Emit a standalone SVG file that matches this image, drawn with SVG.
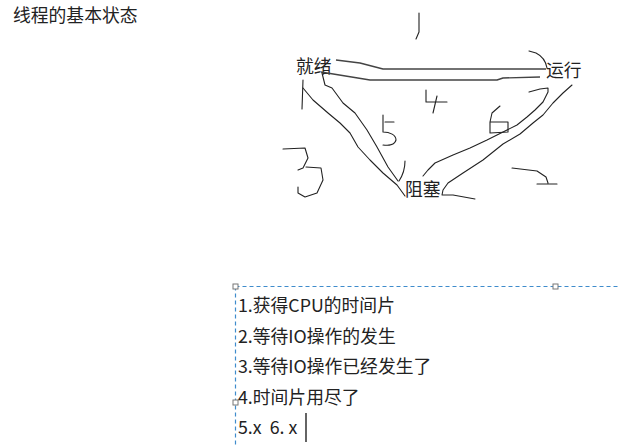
<svg xmlns="http://www.w3.org/2000/svg" width="620" height="447" viewBox="0 0 620 447">
<style>
text{font-family:"Noto Sans CJK SC","Microsoft YaHei",sans-serif;fill:#222;font-size:17.8px}
.hw{fill:none;stroke:#222;stroke-width:1.1;stroke-linejoin:round;stroke-linecap:round}
.hl{fill:none;stroke:#444;stroke-width:1.4;stroke-linejoin:round}
.dash{stroke:#3f8ccc;stroke-width:1.2;stroke-dasharray:4 3;fill:none}
.handle{fill:#fff;stroke:#777;stroke-width:1}
</style>
<rect width="620" height="447" fill="#fff"/>
<g id="title"><text x="13" y="22">线程的基本状态</text></g>
<g id="node-ready"><text x="296" y="73">就绪</text></g>
<g id="node-running"><text x="546" y="77">运行</text></g>
<g id="node-blocked"><text x="405" y="196">阻塞</text></g>
<g id="connectors">
<path class="hl" d="M336,60 L360,63 L383,69 L546,69"/>
<path class="hw" d="M547,68 C546,62 542,56 536,53 L529,51"/>
<path class="hl" d="M321,72 L370,80 L497,80 L503,78 L540,77"/>
<path class="hw" d="M303,88 L313,100 L328,113 L340,123 L350,133 L358,147 L370,160 L383,173 L397,185 L405,196"/>
<path class="hw" d="M322,73 L325,85 L332,88 L343,103 L355,113 L367,130 L377,147 L388,167 L398,181"/>
<path class="hw" d="M405,161 C405,168 403,175 399,181"/>
<path class="hw" d="M529,92 L540,89 L548,88 L548,92 L543,102 L535,110 L527,117 L517,125 L507,130 L497,135 L487,140 L470,148 L453,155 L435,163 L428,170 L423,176"/>
<path class="hw" d="M572,85 L563,93 L553,103 L543,115 L533,123 L520,134 L503,144 L483,160 L463,173 L448,183 L443,190 L442,195 L453,195 L475,199"/>
</g>
<g id="labels">
<path class="hw" d="M419,13 L419,32 L416,39"/>
<path class="hw" d="M303,80 L302,109"/>
<path class="hw" d="M426,90 L426,102 L447,102 M437,96 L433,113"/>
<path class="hw" d="M385,122 L394,122 M383,115 L383,132 C390,132 396,135 396,140 C395,144 390,146 383,145"/>
<path class="hw" d="M283,149 L305,148 L308,158 L303,168 L298,170 M306,167 L321,168 L323,180 L317,193 L305,197 L298,193 L298,187"/>
<path class="hw" d="M500,106 L492,113 L490,122 L490,133 L508,132 L508,122 L490,122"/>
<path class="hw" d="M512,168 L537,171 L546,177 L548,183 M537,184 L557,184"/>
</g>
<g id="legend">
<path class="dash" d="M235.5,286.5 H620 M235.5,286.5 V447"/>
<rect class="handle" x="233" y="284" width="5" height="5"/>
<rect class="handle" x="553" y="284" width="5" height="5"/>
<rect class="handle" x="233" y="400" width="5" height="5"/>
<text x="238" y="312">1.获得CPU的时间片</text>
<text x="238" y="342.5">2.等待IO操作的发生</text>
<text x="238" y="373">3.等待IO操作已经发生了</text>
<text x="238" y="403.5">4.时间片用尽了</text>
<text x="238" y="434" xml:space="preserve">5.x  6. x</text>
<line x1="306" y1="413" x2="306" y2="442" stroke="#111" stroke-width="1.3"/>
</g>
</svg>
